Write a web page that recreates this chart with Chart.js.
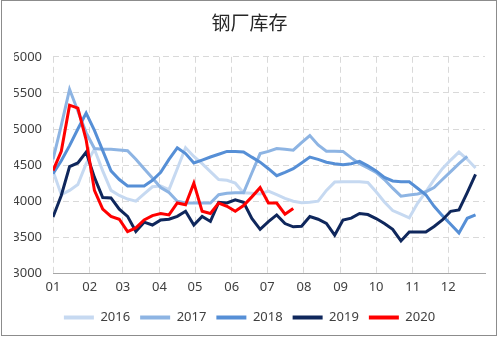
<!DOCTYPE html>
<html>
<head>
<meta charset="utf-8">
<script src="https://cdn.jsdelivr.net/npm/chart.js@4.4.1/dist/chart.umd.min.js"></script>
<style>
  html, body { margin: 0; padding: 0; background: #fff; }
  #wrap { width: 499px; height: 337px; position: relative; }
</style>
</head>
<body>
<div id="wrap"><canvas id="stockChart" width="499" height="337"></canvas></div>
<script>
// month ticks on a day-of-year axis, data is weekly
const monthLabels = ['01', '02', '03', '04', '05', '06', '07', '08', '09', '10', '11', '12'];
const monthStartDays = [0, 31, 59, 90, 120, 151, 181, 212, 243, 273, 304, 334];
const WEEK = 7;

const years = ['2016', '2017', '2018', '2019', '2020'];
const colors = ['#c6d9f1', '#8db4e3', '#568fd6', '#0f275c', '#ff0000'];

const v2016 = [4420, 4090, 4150, 4230, 4520, 4720, 4420, 4150, 4080, 4030, 4000, 4100, 4200,
    4210, 4160, 4450, 4740, 4620, 4520, 4410, 4300, 4290, 4250, 4117, 4110, 4100, 4140,
    4090, 4040, 4000, 3980, 3985, 4000, 4150, 4265, 4268, 4268, 4268, 4260, 4130, 3990,
    3870, 3820, 3770, 3970, 4130, 4300, 4450, 4570, 4680, 4580, 4460];
const v2017 = [4580, 5050, 5550, 5250, 4950, 4730, 4720, 4720, 4710, 4700, 4580, 4450, 4320,
    4190, 4120, 4000, 3975, 3975, 3975, 3975, 4090, 4110, 4117, 4117, 4390, 4660, 4690,
    4730, 4720, 4707, 4810, 4910, 4780, 4693, 4693, 4690, 4600, 4520, 4460, 4400, 4300,
    4180, 4070, 4085, 4100, 4130, 4190, 4300, 4410, 4520, 4620];
const v2018 = [4380, 4560, 4770, 5000, 5220, 4980, 4700, 4420, 4300, 4212, 4210, 4210, 4290,
    4400, 4580, 4740, 4660, 4530, 4570, 4612, 4650, 4690, 4690, 4683, 4610, 4541, 4450,
    4353, 4400, 4450, 4530, 4612, 4580, 4540, 4520, 4504, 4520, 4551, 4490, 4420, 4330,
    4280, 4270, 4268, 4180, 4090, 3930, 3800, 3680, 3560, 3763, 3810];
const v2019 = [3780, 4080, 4480, 4530, 4680, 4330, 4050, 4046, 3890, 3790, 3580, 3710, 3670,
    3740, 3750, 3790, 3860, 3670, 3790, 3720, 3985, 3975, 4020, 3985, 3760, 3610, 3716,
    3810, 3690, 3645, 3654, 3787, 3750, 3692, 3530, 3740, 3765, 3830, 3815, 3760, 3690,
    3610, 3450, 3575, 3575, 3575, 3650, 3740, 3860, 3880, 4120, 4370];
const v2020 = [4424, 4690, 5330, 5290, 4850, 4150, 3890, 3790, 3750, 3580, 3630, 3740, 3800,
    3830, 3810, 3975, 3950, 4250, 3860, 3830, 3975, 3930, 3860, 3940, 4060, 4188, 3975,
    3975, 3820, 3900];

const seriesValues = [v2016, v2017, v2018, v2019, v2020];

const labelFont = { family: 'Noto Sans', size: 13 };

// outer frame like the excel chart border
const framePlugin = {
    id: 'frame',
    afterDraw(chart) {
        const ctx = chart.ctx;
        ctx.save();
        ctx.strokeStyle = '#8c8c8c';
        ctx.lineWidth = 1;
        ctx.strokeRect(1.5, 0.5, 495, 335);
        ctx.restore();
    }
};

const datasets = years.map((year, i) => ({
    label: year,
    data: seriesValues[i].map((v, w) => ({ x: w * WEEK, y: v })),
    borderColor: colors[i],
    backgroundColor: colors[i],
    borderWidth: 3,
    pointRadius: 0,
    tension: 0,
    order: years.length - i
}));

new Chart(document.getElementById('stockChart'), {
    type: 'line',
    data: { datasets: datasets },
    options: {
        responsive: false,
        animation: false,
        devicePixelRatio: 1,
        layout: { padding: { left: 14, right: 14, top: 0, bottom: 3 } },
        plugins: {
            title: {
                display: true,
                text: '钢厂库存',
                color: '#262626',
                font: { family: 'Noto Sans CJK SC', size: 19, weight: 'normal' },
                padding: { top: 11, bottom: 23 }
            },
            legend: {
                position: 'bottom',
                labels: {
                    boxWidth: 30,
                    boxHeight: 4,
                    padding: 10,
                    color: '#404040',
                    font: labelFont,
                    sort: (a, b) => a.datasetIndex - b.datasetIndex,
                    generateLabels: chart => Chart.defaults.plugins.legend.labels.generateLabels(chart)
                        .map(item => ({ ...item, lineWidth: 0 }))
                }
            },
            tooltip: { enabled: false }
        },
        scales: {
            x: {
                type: 'linear',
                min: 0,
                max: 365,
                afterBuildTicks: scale => {
                    scale.ticks = monthStartDays.map(d => ({ value: d }));
                },
                ticks: {
                    autoSkip: false,
                    maxRotation: 0,
                    padding: 6,
                    color: '#404040',
                    font: labelFont,
                    callback: (value, index) => monthLabels[index]
                },
                grid: { color: '#d9d9d9', drawTicks: false },
                border: { display: true, color: '#a6a6a6', width: 1, dash: [6, 4] }
            },
            y: {
                min: 3000,
                max: 6000,
                afterFit: scale => { scale.width = 39; },
                ticks: {
                    stepSize: 500,
                    padding: 11,
                    color: '#404040',
                    font: labelFont,
                    callback: value => String(value)
                },
                grid: { color: '#d9d9d9', drawTicks: false },
                border: { display: false, dash: [6, 4] }
            }
        }
    },
    plugins: [framePlugin]
});
</script>
</body>
</html>
